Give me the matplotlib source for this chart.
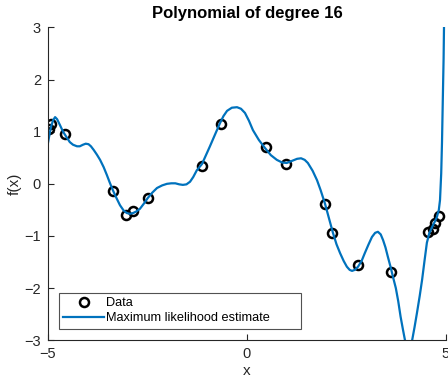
import numpy as np
import matplotlib.pyplot as plt

plt.rcParams['font.family'] = ['Liberation Sans', 'DejaVu Sans']

data_x = [-4.97, -4.93, -4.57, -3.37, -3.04, -2.86, -2.48, -1.13, -0.65,
          0.48, 0.98, 1.96, 2.14, 2.79, 3.62, 4.55, 4.67, 4.72, 4.82]
data_y = [1.06, 1.14, 0.95, -0.14, -0.60, -0.52, -0.27, 0.34, 1.15,
          0.71, 0.38, -0.39, -0.95, -1.56, -1.69, -0.92, -0.87, -0.76, -0.62]

# fitted curve
fit_x = [-5.0, -4.96, -4.92, -4.87, -4.82, -4.77, -4.70, -4.62, -4.52, -4.45,
         -4.37, -4.27, -4.20, -4.12, -4.05, -3.98, -3.92, -3.85, -3.77, -3.69,
         -3.60, -3.52, -3.45, -3.37, -3.28, -3.19, -3.10, -3.02, -2.94, -2.86,
         -2.78, -2.69, -2.59, -2.49, -2.38, -2.26, -2.13, -2.01, -1.90, -1.80,
         -1.70, -1.61, -1.52, -1.43, -1.35, -1.26, -1.13, -1.03, -0.93, -0.80,
         -0.68, -0.59, -0.50, -0.38, -0.25, -0.15, -0.05, 0.05, 0.15, 0.30,
         0.45, 0.60, 0.75, 0.88, 1.00, 1.13, 1.26, 1.36, 1.45, 1.53,
         1.65, 1.76, 1.85, 1.96, 2.06, 2.16, 2.25, 2.34, 2.43, 2.51,
         2.58, 2.64, 2.71, 2.79, 2.88, 2.96, 3.05, 3.14, 3.22, 3.29,
         3.36, 3.42, 3.48, 3.54, 3.61, 3.67, 3.74, 3.80, 3.86, 3.92,
         3.97, 4.02, 4.06, 4.10, 4.15, 4.21, 4.27, 4.34, 4.40, 4.46,
         4.52, 4.58, 4.65, 4.71, 4.77, 4.82, 4.85, 4.88, 4.90, 4.92,
         4.94, 4.95, 4.97]
fit_y = [0.78, 0.95, 1.10, 1.22, 1.28, 1.24, 1.13, 1.00, 0.88, 0.80,
         0.75, 0.72, 0.72, 0.75, 0.77, 0.76, 0.72, 0.65, 0.56, 0.46,
         0.32, 0.17, 0.03, -0.12, -0.27, -0.41, -0.51, -0.56, -0.575, -0.56,
         -0.53, -0.48, -0.38, -0.27, -0.17, -0.08, -0.03, 0.0, 0.01, 0.01,
         -0.01, -0.02, -0.01, 0.04, 0.13, 0.26, 0.38, 0.55, 0.72, 0.95,
         1.16, 1.30, 1.40, 1.46, 1.47, 1.44, 1.36, 1.21, 1.03, 0.84,
         0.69, 0.55, 0.46, 0.41, 0.40, 0.44, 0.48, 0.49, 0.46, 0.40,
         0.25, 0.07, -0.12, -0.38, -0.66, -0.94, -1.16, -1.33, -1.48, -1.59,
         -1.65, -1.67, -1.65, -1.59, -1.48, -1.33, -1.17, -1.02, -0.94, -0.92,
         -0.97, -1.08, -1.22, -1.40, -1.60, -1.79, -2.00, -2.25, -2.55, -2.80,
         -3.00, -3.20, -3.25, -3.20, -3.00, -2.75, -2.48, -2.15, -1.84, -1.48,
         -1.13, -0.95, -0.83, -0.74, -0.64, -0.50, -0.31, 0.20, 0.80, 1.61,
         2.40, 3.00, 3.80]

fig = plt.figure(figsize=(4.48, 3.81), dpi=100)
ax = fig.add_axes([0.107, 0.107, 0.8885, 0.821])

ax.plot(data_x, data_y, 'o', mfc='none', mec='black', mew=1.8, ms=6.5, label='Data')
ax.plot(fit_x, fit_y, color='#0072BD', lw=1.6, label='Maximum likelihood estimate')

ax.set_xlim(-5, 5)
ax.set_ylim(-3, 3)
ax.set_xticks([-5, 0, 5])
ax.set_yticks([-3, -2, -1, 0, 1, 2, 3])
ax.spines['top'].set_visible(False)
ax.spines['right'].set_visible(False)
for s in ['left', 'bottom']:
    ax.spines[s].set_color('#262626')
    ax.spines[s].set_linewidth(0.8)
ax.tick_params(direction='in', length=4, width=0.8, color='#262626',
               labelcolor='#262626', labelsize=10.5, pad=5)

ax.set_title('Polynomial of degree 16', fontweight='bold', fontsize=12, pad=7)
ax.set_xlabel('x', fontsize=11, color='#262626', labelpad=2)
ax.set_ylabel('f(x)', fontsize=11, color='#262626', labelpad=2)

leg = ax.legend(loc='lower left', bbox_to_anchor=(0.0276, 0.036, 0.608, 0.118),
                mode='expand', borderaxespad=0,
                fontsize=9.2, frameon=True, fancybox=False, handlelength=3.2,
                handletextpad=0.15, borderpad=0.35, labelspacing=0.25)
leg.get_frame().set_edgecolor('#262626')
leg.get_frame().set_linewidth(0.8)

fig.savefig('out.png', dpi=100)
